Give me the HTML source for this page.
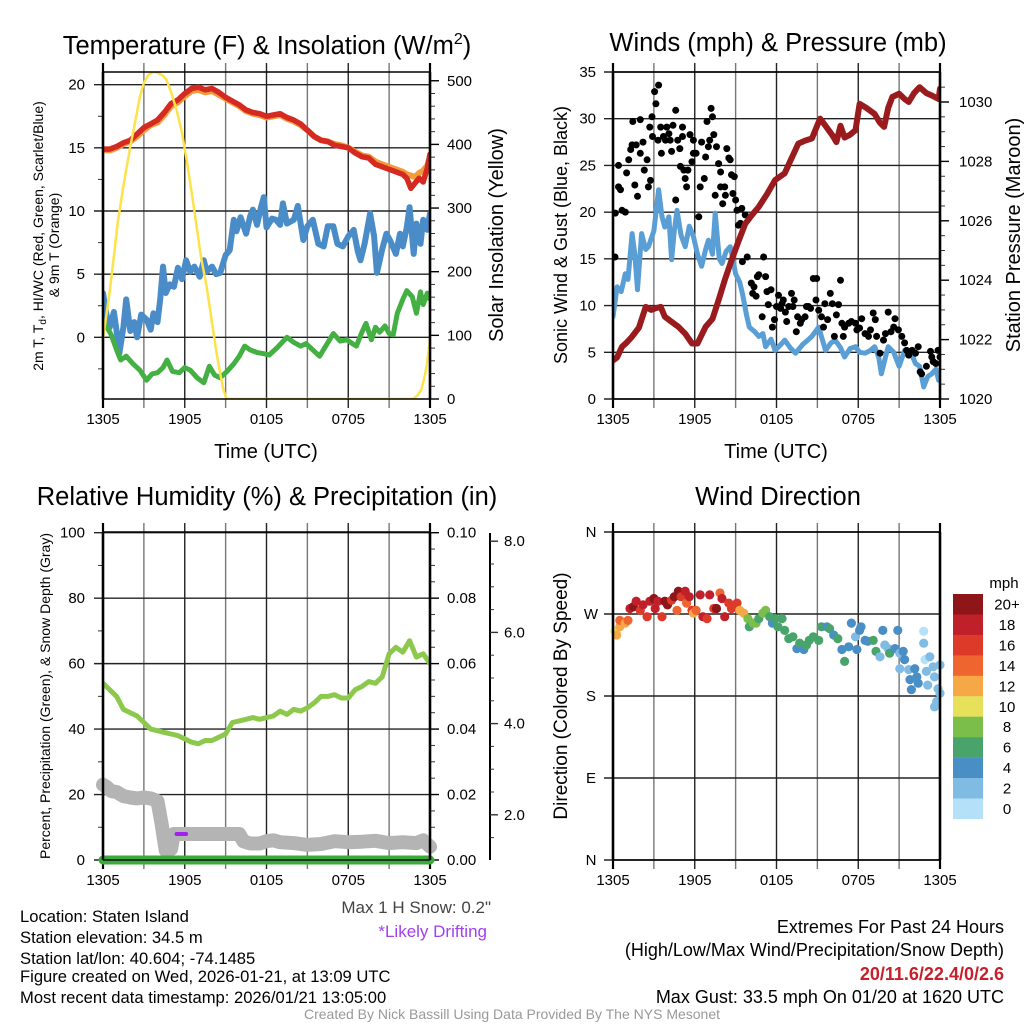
<!DOCTYPE html>
<html><head><meta charset="utf-8"><title>Staten Island Meteogram</title>
<style>
html,body{margin:0;padding:0;background:#fff;}
svg{display:block;font-family:"Liberation Sans",Arial,sans-serif;}
</style></head>
<body>
<svg id="chart" width="1024" height="1024" viewBox="0 0 1024 1024" xmlns="http://www.w3.org/2000/svg">
<rect x="0" y="0" width="1024" height="1024" fill="#fff"/>
</svg>
<script>
// ---- Panel 1: temperature ----
const tempHours=[0,0.5,1,1.5,2,2.5,3,3.5,4,4.5,5,5.5,6,6.5,7,7.5,8,8.5,9,9.5,10,10.5,11,11.5,12,12.5,13,13.5,14,14.5,15,15.5,16,16.5,17,17.5,18,18.5,19,19.5,20,20.5,21,21.5,22,22.3,22.6,22.9,23.2,23.5,23.8,24];
const tempValues=[14.9,14.9,15.1,15.4,15.6,16.1,16.6,16.9,17.2,17.8,18.5,18.8,19.3,19.7,19.8,19.6,19.7,19.4,19.0,18.7,18.4,18.0,17.8,17.7,17.5,17.6,17.7,17.4,17.2,16.9,16.4,15.9,15.6,15.5,15.2,15.1,15.0,14.6,14.3,14.2,13.7,13.5,13.3,13.1,12.9,12.6,11.8,12.2,12.6,12.3,13.4,14.5];
const temp9mValues=[14.8,14.8,15.0,15.3,15.5,15.9,16.4,16.8,17.0,17.6,18.3,18.6,19.1,19.5,19.6,19.4,19.5,19.2,18.9,18.6,18.3,17.9,17.7,17.6,17.4,17.5,17.6,17.3,17.1,16.8,16.4,15.9,15.6,15.5,15.3,15.2,15.0,14.7,14.4,14.3,13.9,13.7,13.5,13.3,13.1,12.9,12.8,12.7,13.0,13.2,13.6,14.3];
const chillHours=[0,0.3,0.5,0.8,1.0,1.2,1.5,1.7,2.0,2.3,2.5,2.8,3.2,3.5,3.7,4.0,4.2,4.4,4.6,4.9,5.2,5.5,5.8,6.1,6.4,6.7,7.1,7.4,7.6,8.0,8.3,8.6,9.0,9.3,9.6,9.8,10.1,10.5,10.8,11.0,11.3,11.6,11.8,12.0,12.4,12.7,13.0,13.2,13.5,14.0,14.3,14.7,15.0,15.4,15.8,16.2,16.5,16.9,17.2,17.6,18.0,18.4,18.7,18.9,19.2,19.6,19.9,20.1,20.5,20.8,21.1,21.5,21.8,22.0,22.3,22.5,22.8,23.0,23.3,23.5,23.8,24];
const chillValues=[3.5,1.5,0.8,2.0,0.5,-1.3,0.8,3.0,0.5,1.2,0,1.8,1.4,0.6,1.9,1.2,3.0,5.6,3.5,4.2,4.0,5.5,4.6,6.1,5.2,5.6,4.8,6.1,5.2,5.6,5.0,5.1,6.5,6.9,9.3,8.4,9.5,8.2,9.6,10.1,8.9,10.3,11.1,8.7,9.4,9.3,8.9,10.6,9.0,9.3,10.4,7.7,8.8,9.3,7.4,7.2,8.8,8.8,7.4,7.2,8.0,8.5,6.8,6.1,7.4,9.8,8.0,5.1,7.0,8.2,7.6,6.6,8.2,7.2,8.7,10.3,6.6,9.0,7.4,9.3,8.5,9.8];
const dewHours=[0,0.3,0.6,1.0,1.3,1.7,2.2,2.7,3.2,3.6,4.0,4.4,4.7,5.1,5.6,6.0,6.4,6.9,7.4,7.8,8.2,8.6,9.1,9.6,10.0,10.4,10.8,11.3,11.8,12.2,12.8,13.5,14.0,14.5,14.9,15.4,15.9,16.4,16.9,17.4,17.9,18.3,18.6,19.0,19.3,19.7,20.0,20.3,20.7,21.0,21.3,21.6,22.0,22.3,22.7,23.0,23.3,23.5,23.8,24];
const dewValues=[1.2,0.8,0.2,-1.0,-1.8,-1.5,-2.1,-2.6,-3.4,-2.9,-2.8,-2.4,-1.8,-2.7,-2.8,-2.4,-2.6,-3.2,-3.6,-2.3,-3.0,-3.2,-2.7,-2.1,-1.5,-0.7,-1.0,-1.2,-1.3,-1.4,-0.8,0,-0.4,-0.7,-0.5,-1.0,-1.5,-0.6,0.3,-0.3,-0.2,-0.5,-0.7,0.4,1.1,-0.2,0.8,0.4,0.9,0.3,0.2,1.9,3.0,3.7,3.2,1.9,3.6,2.6,3.5,3.0];
const solarHours=[0,0.27,0.5,0.76,1.1,1.49,1.98,2.4,2.71,3.0,3.33,3.7,4.06,4.4,4.67,5.0,5.4,5.8,6.14,6.5,6.87,7.2,7.6,8.0,8.34,8.6,8.83,9.07,22.76,23.1,23.37,23.6,23.74,23.9,24];
const solarValues=[95,135,170,218,280,334,394,440,475,497,509,514,512,508,501,482,454,418,375,325,271,222,177,120,72,40,15,0,0,6,15,35,51,75,93];
const tempTicks=[0,5,10,15,20];
const solarTicks=[0,100,200,300,400,500];
const timeTickLabels=["1305","1905","0105","0705","1305"];
// ---- Panel 2: winds ----
const windHours=[0,0.3,0.6,0.9,1.1,1.4,1.6,1.8,2.1,2.4,2.6,3.0,3.35,3.6,3.8,4.1,4.3,4.5,4.7,5.0,5.3,5.6,5.9,6.2,6.5,6.8,7.0,7.3,7.5,7.8,8.0,8.3,8.6,8.8,9.0,9.3,9.5,9.8,10.0,10.4,10.7,11.0,11.2,11.6,11.9,12.3,12.6,13.0,13.4,13.9,14.3,14.6,15.1,15.6,16.0,16.3,16.7,17.0,17.4,17.8,18.1,18.5,18.9,19.2,19.5,19.7,20.0,20.2,20.6,21.0,21.4,21.7,22.0,22.2,22.5,22.8,23.1,23.4,23.7,23.9,24];
const windValues=[8.8,12.0,11.5,13.4,12.8,17.7,15.5,11.7,17.7,16.0,16.3,18.0,22.4,19.5,18.4,19.5,14.9,18.0,20.2,17.5,16.3,18.5,17.4,15.5,14.2,16.0,17.0,15.5,19.9,15.0,14.5,15.8,16.3,15.0,13.4,12.5,11.3,9.0,7.7,7.2,6.7,7.0,5.6,6.4,5.2,5.8,6.3,5.5,4.9,5.8,6.3,6.7,7.7,5.2,6.0,6.3,5.5,4.5,5.4,5.6,5.0,4.9,5.2,5.6,4.5,2.7,4.5,5.6,5.0,3.5,5.2,4.9,4.5,3.8,3.5,1.3,2.4,2.7,3.2,2.0,2.7];
const gustHours=[0.15,0.17,0.4,0.4,0.55,0.66,0.9,1.0,1.15,1.3,1.4,1.45,1.6,1.7,1.8,2.0,2.0,2.2,2.3,2.5,2.6,2.7,2.75,2.86,2.9,3.05,3.15,3.3,3.35,3.5,3.55,3.7,3.85,3.95,4.1,4.2,4.3,4.4,4.6,4.6,4.75,4.9,4.95,5.1,5.1,5.2,5.3,5.4,5.5,5.65,5.8,5.9,5.9,6.1,6.3,6.4,6.5,6.7,6.8,6.9,7.0,7.1,7.2,7.3,7.4,7.5,7.6,7.75,7.9,7.9,8.05,8.2,8.25,8.35,8.5,8.6,8.7,8.8,8.9,9.0,9.1,9.2,9.35,9.45,9.7,9.85,9.5,10.15,10.25,10.35,10.5,10.6,10.7,10.95,11.05,11.2,11.3,11.4,11.6,11.7,11.85,12.0,12.15,12.3,12.4,12.5,12.65,12.75,12.9,13.1,13.2,13.3,13.45,13.55,13.75,13.85,14.1,14.2,14.35,14.5,14.7,14.9,14.95,15.1,15.3,15.45,15.55,15.75,15.95,16.1,16.25,16.4,16.55,16.7,16.8,16.9,17.0,17.3,17.5,17.8,17.9,18.1,18.25,18.5,18.75,18.9,19.1,19.25,19.35,19.6,19.85,20.0,20.2,20.4,20.6,20.7,20.95,21.2,21.4,21.55,21.7,21.95,22.2,22.4,22.55,22.65,23.0,23.3,23.4,23.5,23.7,23.85,24.0];
const gustValues=[15.2,19.9,22.7,25.0,22.4,20.2,20.0,24.2,25.6,26.7,27.2,29.7,22.9,27.2,21.7,26.3,29.9,27.5,24.5,25.6,22.7,29.1,23.4,30.2,28.1,32.9,31.6,27.7,33.6,29.1,26.3,28.1,27.7,29.1,28.4,27.7,26.5,29.3,30.9,21.3,27.7,26.8,24.9,28.1,29.1,24.5,23.6,22.7,24.5,28.3,25.4,27.7,26.3,26.3,19.5,22.7,27.5,23.6,25.9,29.7,27.0,27.7,31.1,30.2,28.3,21.8,27.0,25.2,24.3,22.7,20.9,22.7,21.8,26.8,25.8,25.6,24.0,22.0,23.8,21.3,20.2,18.6,18.8,20.4,19.7,15.2,14.7,12.4,11.3,12.0,11.0,13.1,13.3,8.8,15.2,13.1,11.5,10.1,11.7,7.7,8.5,9.9,11.1,9.7,10.2,10.6,9.3,8.3,9.9,11.3,9.9,10.6,7.2,8.8,8.1,8.5,8.8,9.9,9.9,9.7,12.9,10.6,12.9,9.5,8.8,7.7,10.2,8.5,11.3,10.2,6.7,9.0,10.1,12.7,8.1,6.7,7.7,8.1,8.3,8.1,7.4,7.6,8.6,7.0,6.7,7.4,9.2,8.5,6.7,4.9,6.3,7.0,9.3,7.2,7.7,8.6,7.4,6.7,6.0,5.2,4.7,5.2,4.9,5.6,2.9,2.7,3.5,5.1,4.5,4.0,3.8,5.2,4.5];
const presHours=[0,0.3,0.66,1.0,1.4,1.9,2.4,2.8,3.1,3.5,3.8,4.3,4.8,5.3,5.8,6.2,6.8,7.3,7.75,8.2,8.7,9.2,9.7,10.2,10.7,11.3,11.9,12.6,13.1,13.6,14.1,14.6,15.2,15.6,16.1,16.4,16.7,17.0,17.4,17.8,18.1,18.6,19.2,19.6,19.9,20.2,20.5,21.0,21.4,21.7,22.1,22.5,23.0,23.4,23.9,24];
const presValues=[1021.3,1021.4,1021.76,1021.9,1022.1,1022.4,1023.1,1023.0,1023.05,1023.1,1022.77,1022.6,1022.43,1022.2,1021.87,1021.87,1022.43,1022.7,1023.33,1024.0,1024.67,1025.3,1025.9,1026.2,1026.47,1026.9,1027.37,1027.6,1028.1,1028.6,1028.7,1028.77,1029.44,1029.2,1028.88,1028.65,1029.2,1028.8,1028.9,1029.05,1029.94,1029.8,1029.6,1029.3,1029.16,1029.8,1030.17,1030.28,1030.1,1030.0,1030.3,1030.5,1030.3,1030.22,1030.1,1030.45];
const windTicks=[0,5,10,15,20,25,30,35];
const presTicks=[1020,1022,1024,1026,1028,1030];
// ---- Panel 3: humidity ----
const rhHours=[0,0.5,1,1.5,2,2.5,3,3.5,4,4.5,5,5.5,6,6.5,7,7.5,8,8.5,9,9.5,10,10.5,11,11.5,12,12.5,13,13.5,14,14.5,15,15.5,16,16.5,17,17.5,18,18.5,19,19.5,20,20.5,21,21.5,22,22.5,23,23.5,24];
const rhValues=[54,52,50,46,45,44,42,40,39.5,39,38.5,38,37,36,35.5,36.5,36.5,37.5,38.5,42,42.5,43,43.5,43,43.5,44,45.5,44.5,46,45.5,46.5,48,50,50,50.5,49.5,49.5,52,53,54.5,54,56,63,65,63.5,67,62,63,60];
const snowHours=[0,0.3,0.6,1.0,1.5,2.0,2.5,3.0,3.5,4.0,4.3,4.6,5.0,5.2,6,7,8,9,10,10.3,10.8,11.5,12,12.5,13,14,15,16,17,18,19,20,21,22,23,23.5,24];
const snowDepths=[2.66,2.6,2.52,2.5,2.41,2.38,2.36,2.38,2.36,2.3,1.8,1.22,1.25,1.58,1.58,1.58,1.58,1.58,1.58,1.42,1.37,1.37,1.42,1.44,1.40,1.38,1.34,1.36,1.42,1.40,1.41,1.43,1.38,1.40,1.38,1.44,1.30];
const precipHours=[0,24];
const precipValues=[0,0];
const driftHours=[5.4,6.1];
const driftDepths=[1.58,1.58];
const rhTicks=[0,20,40,60,80,100];
const precipTickLabels=["0.00","0.02","0.04","0.06","0.08","0.10"];
const precipTicks=[0,0.02,0.04,0.06,0.08,0.10];
const snowTicks=[2,4,6,8];
const snowTickLabels=["2.0","4.0","6.0","8.0"];
// ---- Panel 4: wind direction ----
const dirHours=[0.15,0.27,0.5,0.5,0.9,1.1,1.25,1.5,1.7,2.0,2.2,2.5,2.7,3.0,3.1,3.3,3.6,3.8,4.0,4.3,4.5,4.7,4.8,5.0,5.3,5.4,5.6,5.8,5.9,6.1,6.4,6.6,6.9,7.1,7.4,7.6,7.85,8.0,8.2,8.5,8.7,9.1,9.3,9.6,9.9,10.0,10.3,10.5,10.7,11.0,11.2,11.5,11.7,11.9,12.1,12.4,12.6,12.9,13.2,13.5,13.7,14.0,14.2,14.4,14.7,15.1,15.3,15.7,15.9,16.2,16.5,16.8,17.0,17.3,17.5,17.8,17.9,18.1,18.2,18.5,18.7,19.1,19.3,19.6,19.8,19.95,20.2,20.3,20.7,20.9,21.05,21.3,21.4,21.05,21.7,21.8,21.9,22.15,22.3,22.4,22.8,22.8,22.9,23.0,23.1,23.25,23.5,23.6,23.75,23.85,24.0,24.0,23.6];
const dirDegrees=[251,247,256,263,260,263,276,278,284,274,280,267,284,287,276,284,267,284,280,285,289,274,295,289,295,282,289,274,271,274,291,267,265,291,276,276,293,287,267,282,276,282,274,271,265,256,260,260,265,271,274,267,260,265,256,265,252,243,245,232,238,231,236,241,245,241,256,256,254,247,243,231,218,234,260,245,231,252,256,241,240,241,229,223,252,236,232,227,232,252,227,229,220,210,209,198,187,210,201,194,251,238,220,207,192,223,212,201,174,188,183,214,168];
const dirSpeeds=[10,12,12,14,12,14,18,20,18,16,18,16,18,20,18,18,16,20,20,16,20,14,20,16,18,14,18,16,12,14,18,18,16,18,16,20,14,18,18,16,16,16,12,12,8,6,8,8,6,8,8,6,4,6,6,6,6,6,6,4,6,4,6,6,6,6,6,4,6,4,6,4,6,4,4,2,4,4,4,4,4,6,6,2,4,2,2,6,4,4,2,4,4,2,2,4,4,4,4,4,0,2,0,2,2,2,2,2,2,2,2,2,2];
const dirTickLabels=["N","E","S","W","N"];
const dirTicks=[0,90,180,270,360];
const speedBinLabels=["0","2","4","6","8","10","12","14","16","18","20+"];
const speedBinColors=["#b4e1f7","#80bbe3","#4a8ec6","#48a46a","#7bbf4a","#e6e05a","#f5a845","#ef6530","#dd3a2a","#c0202a","#8e1518"];

const NS="http://www.w3.org/2000/svg";
const svg=document.getElementById('chart');
function add(tag,attrs,name,parent){
  const el=document.createElementNS(NS,tag);
  for(const k in attrs){ if(attrs[k]!==null) el.setAttribute(k,attrs[k]); }
  
  
  (parent||svg).appendChild(el);
  return el;
}
function txt(str,attrs,name,parent){
  const el=add('text',Object.assign({fill:'#000','font-size':15},attrs),name,parent);
  el.textContent=str;
  return el;
}
const P1={x0:103,x1:430,y0:72,y1:399};
const P2={x0:613,x1:940,y0:72,y1:399};
const P3={x0:103,x1:430,y0:532,y1:860};
const P4={x0:613,x1:940,y0:532,y1:860};
function xh(P,h){return P.x0+h*(P.x1-P.x0)/24;}
const y1L=v=>337.3-12.63*v;
const y1R=v=>399-0.6365*v;
const y2L=v=>399-9.343*v;
const y2R=p=>399-29.7*(p-1020);
const y3L=v=>860-3.273*v;
const y3P=v=>860-3273*v;
const y3S=s=>906-45.6*s;
const y4=d=>860-d*328/360;

function clip(P,id){
  const defs=add('defs',{},id+'-defs');
  const cp=add('clipPath',{id:id},id,defs);
  add('rect',{x:P.x0,y:P.y0,width:P.x1-P.x0,height:P.y1-P.y0},id+'-rect',cp);
}
function timeAxis(P,pname){
  for(let h=0;h<=24;h+=3){
    const x=xh(P,h);
    const edge=(h===0||h===24);
    add('line',{x1:x,x2:x,y1:P.y0-9,y2:P.y1+9,stroke:edge?'#000':(h%6===0?'#222':'#777'),'stroke-width':edge?2.2:1.4},pname+'-vgrid-'+h);
  }
  timeTickLabels.forEach((lab,i)=>{
    txt(lab,{x:xh(P,i*6),y:P.y1+25,'text-anchor':'middle','font-size':15},pname+'-x-tick-label');
  });
}
function hGrid(P,y,name){
  add('line',{x1:P.x0-9,x2:P.x1,y1:y,y2:y,stroke:'#222','stroke-width':1.4},name);
}
function frameTopBottom(P,pname){
  add('line',{x1:P.x0,x2:P.x1,y1:P.y0,y2:P.y0,stroke:'#000','stroke-width':1.6},pname+'-frame-top');
  add('line',{x1:P.x0,x2:P.x1,y1:P.y1,y2:P.y1,stroke:'#000','stroke-width':1.6},pname+'-frame-bottom');
}
function poly(P,hours,vals,yf,color,width,name,clipId,cap){
  const n=Math.min(hours.length,vals.length);
  const pts=[];
  for(let i=0;i<n;i++) pts.push(xh(P,hours[i]).toFixed(1)+','+yf(vals[i]).toFixed(1));
  return add('polyline',{points:pts.join(' '),fill:'none',stroke:color,'stroke-width':width,'stroke-linejoin':'round','stroke-linecap':cap||'round','clip-path':clipId?'url(#'+clipId+')':null},name);
}
function rightTicks(P,vals,yf,name,minorVals){
  if(minorVals) minorVals.forEach(v=>add('line',{x1:P.x1,x2:P.x1+5,y1:yf(v),y2:yf(v),stroke:'#333','stroke-width':1},name+'-minor-tick'));
  vals.forEach(v=>add('line',{x1:P.x1,x2:P.x1+9,y1:yf(v),y2:yf(v),stroke:'#000','stroke-width':1.4},name+'-major-tick'));
}
function rotText(str,x,y,size,name){
  return txt(str,{x:0,y:0,transform:'translate('+x+','+y+') rotate(-90)','text-anchor':'middle','font-size':size},name);
}

// ===== Panel 1 =====
clip(P1,'clip1');
timeAxis(P1,'temp-panel');
tempTicks.forEach(v=>{hGrid(P1,y1L(v),'temp-hgrid');txt(String(v),{x:85,y:y1L(v)+5,'text-anchor':'end'},'temp-y-tick-label');});
[-2.5,2.5,7.5,12.5,17.5].forEach(v=>add('line',{x1:P1.x0-5,x2:P1.x0,y1:y1L(v),y2:y1L(v),stroke:'#333','stroke-width':1},'temp-minor-tick'));
const solMinor=[];for(let v=20;v<=500;v+=20){if(v%100)solMinor.push(v);}
rightTicks(P1,solarTicks,y1R,'solar',solMinor);
solarTicks.forEach(v=>txt(String(v),{x:447,y:y1R(v)+5},'solar-y-tick-label'));
poly(P1,tempHours,temp9mValues,y1L,'#f39a3a',6,'temp-9m-orange-line','clip1');
poly(P1,tempHours,tempValues,y1L,'#d42a22',5.5,'temp-2m-red-line','clip1');
poly(P1,chillHours,chillValues,y1L,'#4a8cc8',6,'wind-chill-blue-line','clip1');
poly(P1,dewHours,dewValues,y1L,'#44b044',5,'dewpoint-green-line','clip1');
poly(P1,solarHours,solarValues,y1R,'#fde24a',2.5,'solar-insolation-yellow-line','clip1');
add('line',{x1:P1.x0,x2:P1.x0,y1:P1.y0,y2:P1.y1,stroke:'#000','stroke-width':2.5},'temp-left-axis');
add('line',{x1:P1.x1,x2:P1.x1,y1:P1.y0,y2:P1.y1,stroke:'#000','stroke-width':2.5},'temp-right-axis');
frameTopBottom(P1,'temp-panel');
const t1=txt('Temperature (F) & Insolation (W/m',{x:267,y:54,'text-anchor':'middle','font-size':25.5},'temp-panel-title');
const sup=add('tspan',{dy:-10,'font-size':16},'title-superscript',t1);sup.textContent='2';
const sup2=add('tspan',{dy:10},'title-close-paren',t1);sup2.textContent=')';
txt('Time (UTC)',{x:266,y:458,'text-anchor':'middle','font-size':20},'temp-x-axis-title');
const lt=txt('',{x:0,y:0,transform:'translate(43,236) rotate(-90)','text-anchor':'middle','font-size':14},'temp-y-axis-title');
const a1=add('tspan',{},'t1',lt);a1.textContent='2m T, T';
const a2=add('tspan',{dy:3,'font-size':10},'td-sub',lt);a2.textContent='d';
const a3=add('tspan',{dy:-3},'t2',lt);a3.textContent=', HI/WC (Red, Green, Scarlet/Blue)';
rotText('& 9m T (Orange)',59,245,14,'temp-y-axis-title-line2');
rotText('Solar Insolation (Yellow)',503,235,20,'solar-y-axis-title');

// ===== Panel 2 =====
clip(P2,'clip2');
timeAxis(P2,'wind-panel');
windTicks.forEach(v=>{hGrid(P2,y2L(v),'wind-hgrid');txt(String(v),{x:596,y:y2L(v)+5,'text-anchor':'end'},'wind-y-tick-label');});
const presMinor=[];for(let p=1020.5;p<1031;p+=0.5){if(Math.abs(p-Math.round(p/2)*2)>0.01)presMinor.push(p);}
rightTicks(P2,presTicks,y2R,'pressure',presMinor);
presTicks.forEach(v=>txt(String(v),{x:959,y:y2R(v)+5},'pressure-y-tick-label'));
poly(P2,windHours,windValues,y2L,'#5a9ed6',5,'sonic-wind-blue-line','clip2');
const ng=Math.min(gustHours.length,gustValues.length);
for(let i=0;i<ng;i++){
  add('circle',{cx:xh(P2,gustHours[i]).toFixed(1),cy:y2L(gustValues[i]).toFixed(1),r:3.5,fill:'#000','clip-path':'url(#clip2)'},'gust-point');
}
poly(P2,presHours,presValues,y2R,'#9a1b1e',6,'pressure-maroon-line','clip2');
add('line',{x1:P2.x0,x2:P2.x0,y1:P2.y0,y2:P2.y1,stroke:'#000','stroke-width':2.5},'wind-left-axis');
add('line',{x1:P2.x1,x2:P2.x1,y1:P2.y0,y2:P2.y1,stroke:'#000','stroke-width':2.5},'wind-right-axis');
frameTopBottom(P2,'wind-panel');
txt('Winds (mph) & Pressure (mb)',{x:778,y:51,'text-anchor':'middle','font-size':25.5},'wind-panel-title');
txt('Time (UTC)',{x:776,y:458,'text-anchor':'middle','font-size':20},'wind-x-axis-title');
rotText('Sonic Wind & Gust (Blue, Black)',567,235,18,'wind-y-axis-title');
rotText('Station Pressure (Maroon)',1020,235,20,'pressure-y-axis-title');

// ===== Panel 3 =====
clip(P3,'clip3');
const clip3b=add('defs',{},'clip3b-defs');
const cp3=add('clipPath',{id:'clip3b'},'clip3b',clip3b);
add('rect',{x:P3.x0-10,y:P3.y0,width:P3.x1-P3.x0+20,height:P3.y1-P3.y0+14},'clip3b-rect',cp3);
timeAxis(P3,'rh-panel');
rhTicks.forEach(v=>{hGrid(P3,y3L(v),'rh-hgrid');txt(String(v),{x:85,y:y3L(v)+5,'text-anchor':'end'},'rh-y-tick-label');});
[10,30,50,70,90].forEach(v=>add('line',{x1:P3.x0-5,x2:P3.x0,y1:y3L(v),y2:y3L(v),stroke:'#333','stroke-width':1},'rh-minor-tick'));
const pMinor=[];for(let i=1;i<20;i++){if(i%4)pMinor.push(i*0.005);}
rightTicks(P3,precipTicks,y3P,'precip',pMinor);
precipTicks.forEach((v,i)=>txt(precipTickLabels[i],{x:447,y:y3P(v)+5},'precip-y-tick-label'));
poly(P3,snowHours,snowDepths,y3S,'#b4b4b4',14,'snow-depth-gray-line','clip3b');
poly(P3,driftHours,driftDepths,y3S,'#a020f0',4,'likely-drifting-purple-mark','clip3b');
poly(P3,rhHours,rhValues,y3L,'#8cc84c',5,'relative-humidity-green-line','clip3');
poly(P3,precipHours,precipValues,y3P,'#3aaa3a',9,'precipitation-green-line','clip3b');
add('line',{x1:P3.x0,x2:P3.x0,y1:P3.y0,y2:P3.y1,stroke:'#000','stroke-width':2.5},'rh-left-axis');
add('line',{x1:P3.x1,x2:P3.x1,y1:P3.y0,y2:P3.y1,stroke:'#000','stroke-width':2.5},'rh-right-axis');
add('line',{x1:P3.x0,x2:P3.x1,y1:P3.y0,y2:P3.y0,stroke:'#000','stroke-width':1.6},'rh-frame-top');
add('line',{x1:P3.x0,x2:P3.x1,y1:P3.y1,y2:P3.y1,stroke:'#111','stroke-width':1.6},'rh-frame-bottom');
add('line',{x1:490,x2:490,y1:533,y2:860,stroke:'#000','stroke-width':2},'snow-depth-axis-line');
for(let s=1.5;s<=8.01;s+=0.5){
  const major=Math.abs(s-Math.round(s/2)*2)<0.01;
  add('line',{x1:490,x2:major?498:494,y1:y3S(s),y2:y3S(s),stroke:'#333','stroke-width':major?1.4:1},'snow-depth-tick');
}
snowTicks.forEach((v,i)=>txt(snowTickLabels[i],{x:504,y:y3S(v)+5},'snow-depth-tick-label'));
txt('Relative Humidity (%) & Precipitation (in)',{x:267,y:505,'text-anchor':'middle','font-size':25.5},'rh-panel-title');
rotText('Percent, Precipitation (Green), & Snow Depth (Gray)',50,696,14,'rh-y-axis-title');

// ===== Panel 4 =====
clip(P4,'clip4');
timeAxis(P4,'dir-panel');
dirTicks.forEach((v,i)=>{hGrid(P4,y4(v),'dir-hgrid');txt(dirTickLabels[i],{x:591,y:y4(v)+5,'text-anchor':'middle'},'dir-y-tick-label');});
const nd=Math.min(dirHours.length,dirDegrees.length,dirSpeeds.length);
for(let i=0;i<nd;i++){
  const bin=Math.min(10,Math.floor(dirSpeeds[i]/2));
  add('circle',{cx:xh(P4,dirHours[i]).toFixed(1),cy:y4(dirDegrees[i]).toFixed(1),r:4.6,fill:speedBinColors[bin]},'wind-direction-point');
}
add('line',{x1:P4.x0,x2:P4.x0,y1:P4.y0,y2:P4.y1,stroke:'#000','stroke-width':2.5},'dir-left-axis');
add('line',{x1:P4.x1,x2:P4.x1,y1:P4.y0,y2:P4.y1,stroke:'#000','stroke-width':2.5},'dir-right-axis');
frameTopBottom(P4,'dir-panel');
txt('Wind Direction',{x:778,y:505,'text-anchor':'middle','font-size':25.5},'dir-panel-title');
rotText('Direction (Colored By Speed)',567,696,19,'dir-y-axis-title');
txt('mph',{x:1004,y:588,'text-anchor':'middle','font-size':15},'colorbar-title');
for(let i=0;i<11;i++){
  const k=10-i;
  const y=594+i*20.45;
  add('rect',{x:953,y:y.toFixed(1),width:30,height:20.6,fill:speedBinColors[k]},'colorbar-box');
  txt(speedBinLabels[k],{x:1007,y:(y+15.5).toFixed(1),'text-anchor':'middle','font-size':15},'colorbar-label');
}

// ===== Footer text =====
const info=["Location: Staten Island","Station elevation: 34.5 m","Station lat/lon: 40.604; -74.1485","Figure created on Wed, 2026-01-21, at 13:09 UTC","Most recent data timestamp: 2026/01/21 13:05:00"];
const infoY=[922,943,964,982,1003];
info.forEach((s,i)=>txt(s,{x:20,y:infoY[i],'font-size':16.6},'station-info-line'));
txt('Max 1 H Snow: 0.2"',{x:491,y:913,'text-anchor':'end','font-size':17,fill:'#444'},'max-snow-label');
txt('*Likely Drifting',{x:487,y:937,'text-anchor':'end','font-size':17,fill:'#a040f0'},'likely-drifting-label');
txt('Extremes For Past 24 Hours',{x:1004,y:933,'text-anchor':'end','font-size':18},'extremes-title');
txt('(High/Low/Max Wind/Precipitation/Snow Depth)',{x:1004,y:956,'text-anchor':'end','font-size':18},'extremes-subtitle');
txt('20/11.6/22.4/0/2.6',{x:1004,y:980,'text-anchor':'end','font-size':18,'font-weight':'bold',fill:'#c8202a'},'extremes-values');
txt('Max Gust: 33.5 mph On 01/20 at 1620 UTC',{x:1004,y:1003,'text-anchor':'end','font-size':18},'max-gust-label');
txt('Created By Nick Bassill Using Data Provided By The NYS Mesonet',{x:512,y:1019,'text-anchor':'middle','font-size':14,fill:'#999'},'credit-footer');
</script>
</body></html>
